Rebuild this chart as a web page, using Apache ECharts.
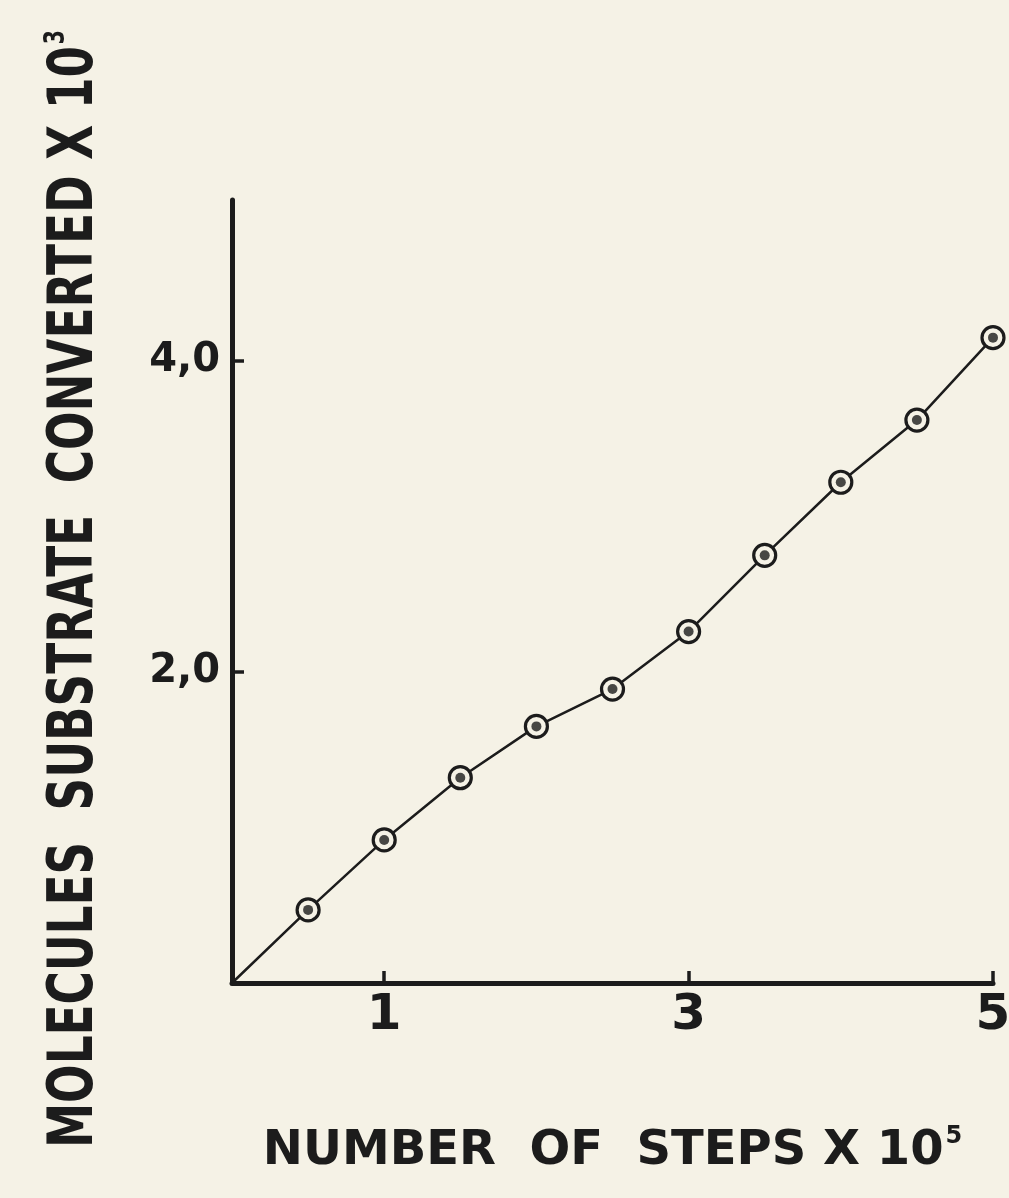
<!DOCTYPE html>
<html>
<head>
<meta charset="utf-8">
<script src="https://cdn.jsdelivr.net/npm/echarts@6/dist/echarts.min.js"></script>
<style>
  html, body { margin: 0; padding: 0; background: #f5f2e6; }
  #chart { width: 1009px; height: 1198px; }
</style>
</head>
<body>
<div id="chart"></div>
<script>
// Number of steps (x 10^5)
var steps = [0, 0.5, 1.0, 1.5, 2.0, 2.5, 3.0, 3.5, 4.0, 4.5, 5.0];
// Molecules substrate converted (x 10^3)
var molecules = [0, 0.47, 0.92, 1.32, 1.65, 1.89, 2.26, 2.75, 3.22, 3.62, 4.15];
var xTickValues = [1, 3, 5];
var yTickValues = [2, 4];
var xTitle = 'NUMBER  OF  STEPS X 10';
var xTitleExp = '5';
var yTitle = 'MOLECULES  SUBSTRATE  CONVERTED X 10';
var yTitleExp = '3';

var ink = '#1c1c1c';
var paper = '#f5f2e6';
var titleFont = 'DejaVu Sans Condensed';

var lineData = steps.map(function (s, i) {
  var item = { value: [s, molecules[i]] };
  if (s === 0) { item.symbol = 'none'; }
  return item;
});
var dotData = [];
steps.forEach(function (s, i) { if (s !== 0) dotData.push([s, molecules[i]]); });

// measure y title to compress it along its length (hand lettering is narrow)
var mctx = document.createElement('canvas').getContext('2d');
mctx.font = 'bold 62px "' + titleFont + '"';
var wMain = mctx.measureText(yTitle).width;
mctx.font = 'bold 28px "' + titleFont + '"';
var wExp = mctx.measureText(yTitleExp).width;
var yTitleScale = 1118 / (wMain + wExp + 2);

var chart = echarts.init(document.getElementById('chart'), null, { renderer: 'canvas' });
chart.setOption({
  backgroundColor: paper,
  animation: false,
  grid: { left: 232, right: 16, top: 200, bottom: 215, containLabel: false, outerBoundsMode: 'none' },
  xAxis: {
    type: 'value', min: 0, max: 5,
    splitLine: { show: false },
    axisLine: { show: true, lineStyle: { color: ink, width: 5 } },
    axisTick: { show: true, inside: true, length: 12, lineStyle: { color: ink, width: 3.5 }, customValues: xTickValues },
    axisLabel: {
      customValues: xTickValues, margin: 8, color: ink,
      fontFamily: 'DejaVu Sans', fontWeight: 'bold', fontSize: 50,
      formatter: function (v) { return String(v); }
    },
    name: '{t|' + xTitle + '}{s|' + xTitleExp + '}',
    nameLocation: 'middle', nameGap: 142,
    nameTextStyle: {
      rich: {
        t: { fontFamily: 'DejaVu Sans', fontWeight: 'bold', fontSize: 48, color: ink },
        s: { fontFamily: 'DejaVu Sans', fontWeight: 'bold', fontSize: 24, color: ink, verticalAlign: 'top', padding: [0, 0, 30, 2] }
      }
    }
  },
  yAxis: {
    type: 'value', min: 0, max: 5.035,
    splitLine: { show: false },
    axisLine: { show: true, lineStyle: { color: ink, width: 5 } },
    axisTick: { show: true, inside: true, length: 12, lineStyle: { color: ink, width: 3.5 }, customValues: yTickValues },
    axisLabel: {
      customValues: yTickValues, margin: 12, color: ink,
      fontFamily: 'DejaVu Sans', fontWeight: 'bold', fontSize: 40,
      formatter: function (v) { return v.toFixed(1).replace('.', ','); }
    }
  },
  graphic: [
    {
      type: 'text',
      x: 76, y: 589,
      rotation: Math.PI / 2,
      scaleX: yTitleScale, scaleY: 1,
      style: {
        text: '{t|' + yTitle + '}{s|' + yTitleExp + '}',
        align: 'center', verticalAlign: 'middle',
        rich: {
          t: { fontFamily: titleFont, fontWeight: 'bold', fontSize: 62, fill: ink },
          s: { fontFamily: titleFont, fontWeight: 'bold', fontSize: 28, fill: ink, verticalAlign: 'top', padding: [0, 0, 38, 2] }
        }
      }
    }
  ],
  series: [
    {
      type: 'line',
      data: lineData,
      symbol: 'circle',
      symbolSize: 22,
      showAllSymbol: true,
      lineStyle: { color: ink, width: 2.5 },
      itemStyle: { color: paper, borderColor: ink, borderWidth: 3.2 },
      z: 2
    },
    {
      type: 'scatter',
      data: dotData,
      symbol: 'circle',
      symbolSize: 10,
      itemStyle: { color: ink },
      z: 3
    }
  ]
});
</script>
</body>
</html>
